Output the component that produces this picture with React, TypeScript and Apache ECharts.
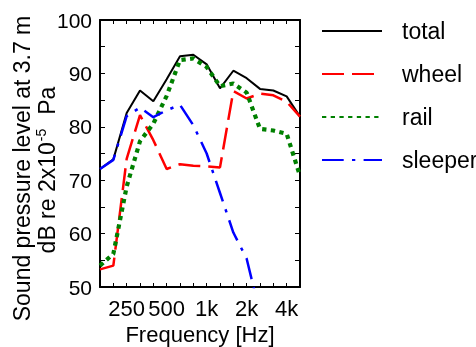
import React, { useEffect, useRef } from "react";
import * as echarts from "echarts";

const categories = ["160", "200", "250", "315", "400", "500", "630", "800", "1000", "1250", "1600", "2000", "2500", "3150", "4000", "5000"];
const tickLabels: Record<string, string> = { "250": "250", "500": "500", "1000": "1k", "2000": "2k", "4000": "4k" };

const total = [72.1, 73.9, 82.6, 86.8, 84.8, 88.9, 93.2, 93.5, 91.7, 87.2, 90.5, 89.1, 87.1, 86.8, 85.7, 81.9];
const wheel = [53.3, 54.0, 74.0, 82.2, 77.5, 72.1, 73.0, 72.7, 72.6, 72.4, 86.7, 85.3, 86.2, 85.9, 84.7, 81.9];
const rail = [54.0, 56.2, 68.8, 77.3, 80.6, 85.8, 92.5, 92.8, 91.2, 87.6, 88.1, 86.4, 79.6, 79.3, 78.7, 70.8];
const sleeper = [72.1, 73.8, 82.0, 83.6, 81.8, 83.1, 84.1, 80.3, 75.0, 67.6, 60.2, 55.3, 45.0, null, null, null];

const FONT = "'Liberation Sans', Arial, sans-serif";

export default function App() {
  const ref = useRef<HTMLDivElement>(null);
  useEffect(() => {
    if (!ref.current) return;
    const chart = echarts.init(ref.current, undefined, { renderer: "svg" });
    const axisLine = { show: true, lineStyle: { color: "#000", width: 2 } };
    const tick = { show: true, inside: true, length: 5, lineStyle: { color: "#000", width: 1 } };
    chart.setOption({
      animation: false,
      textStyle: { fontFamily: FONT },
      grid: { left: 100, right: 176, top: 20, bottom: 60, containLabel: false, outerBoundsMode: "none" },
      legend: {
        orient: "vertical",
        left: 321,
        top: 19,
        padding: 0,
        itemWidth: 60,
        itemHeight: 14,
        itemGap: 19,
        data: ["total", "wheel", "rail", "sleeper"],
        itemStyle: { opacity: 0 },
        textStyle: { fontSize: 23, color: "#000", fontFamily: FONT, lineHeight: 24, padding: [0, 0, 0, 15] },
      },
      xAxis: [
        {
          type: "category",
          data: categories,
          boundaryGap: false,
          position: "bottom",
          axisLine,
          axisTick: { ...tick, length: 4, interval: 0 },
          axisLabel: {
            interval: (_i: number, v: string) => v in tickLabels,
            formatter: (v: string) => tickLabels[v] ?? "",
            fontSize: 22,
            color: "#000",
            margin: 10,
            fontFamily: FONT,
          },
          splitLine: { show: false },
          name: "Frequency [Hz]",
          nameLocation: "middle",
          nameGap: 36,
          nameTextStyle: { fontSize: 22, color: "#000", fontFamily: FONT },
        },
        {
          type: "category",
          data: categories,
          boundaryGap: false,
          position: "top",
          axisLine,
          axisTick: { ...tick, length: 4, interval: 0 },
          axisLabel: { show: false },
          splitLine: { show: false },
        },
      ],
      yAxis: [
        {
          type: "value",
          min: 50,
          max: 100,
          interval: 5,
          position: "left",
          axisLine,
          axisTick: tick,
          axisLabel: {
            formatter: (v: number) => (v % 10 === 0 ? String(v) : ""),
            fontSize: 21,
            color: "#000",
            margin: 8,
            fontFamily: FONT,
          },
          splitLine: { show: false },
        },
        {
          type: "value",
          min: 50,
          max: 100,
          interval: 5,
          position: "right",
          axisLine,
          axisTick: tick,
          axisLabel: { show: false },
          splitLine: { show: false },
        },
      ],
      graphic: [
        {
          type: "text",
          x: 22,
          y: 168.5,
          rotation: Math.PI / 2,
          style: { text: "Sound pressure level at 3.7 m", fontSize: 23, fontFamily: FONT, fill: "#000", align: "center", verticalAlign: "middle" },
        },
        {
          type: "text",
          x: 47,
          y: 170,
          rotation: Math.PI / 2,
          style: {
            text: "{a|dB re 2x10}{s|-5}{a|Pa}",
            align: "center",
            verticalAlign: "middle",
            fontFamily: FONT,
            fill: "#000",
            rich: {
              a: { fontSize: 23, fontFamily: FONT, fill: "#000", lineHeight: 26 },
              s: { fontSize: 14, fontFamily: FONT, fill: "#000", verticalAlign: "top", lineHeight: 26, padding: [0, 14, 0, 1] },
            },
          },
        },
      ],
      series: [
        { name: "total", type: "line", data: total, symbol: "none", lineStyle: { color: "#000", width: 2 }, itemStyle: { color: "#000" } },
        { name: "wheel", type: "line", data: wheel, symbol: "none", lineStyle: { color: "#ff0000", width: 2.5, type: [22, 8] }, itemStyle: { color: "#ff0000" } },
        { name: "rail", type: "line", data: rail, symbol: "none", lineStyle: { color: "#008000", width: 4.2, type: [4.3, 4.4] }, itemStyle: { color: "#008000" } },
        { name: "sleeper", type: "line", data: sleeper, symbol: "none", connectNulls: false, lineStyle: { color: "#0000ff", width: 2.5, type: [21.7, 8.3, 3.3, 8.3] }, itemStyle: { color: "#0000ff" } },
      ],
    });
    return () => chart.dispose();
  }, []);
  return <div ref={ref} style={{ position: "fixed", left: 0, top: 0, width: 476, height: 347 }} />;
}
